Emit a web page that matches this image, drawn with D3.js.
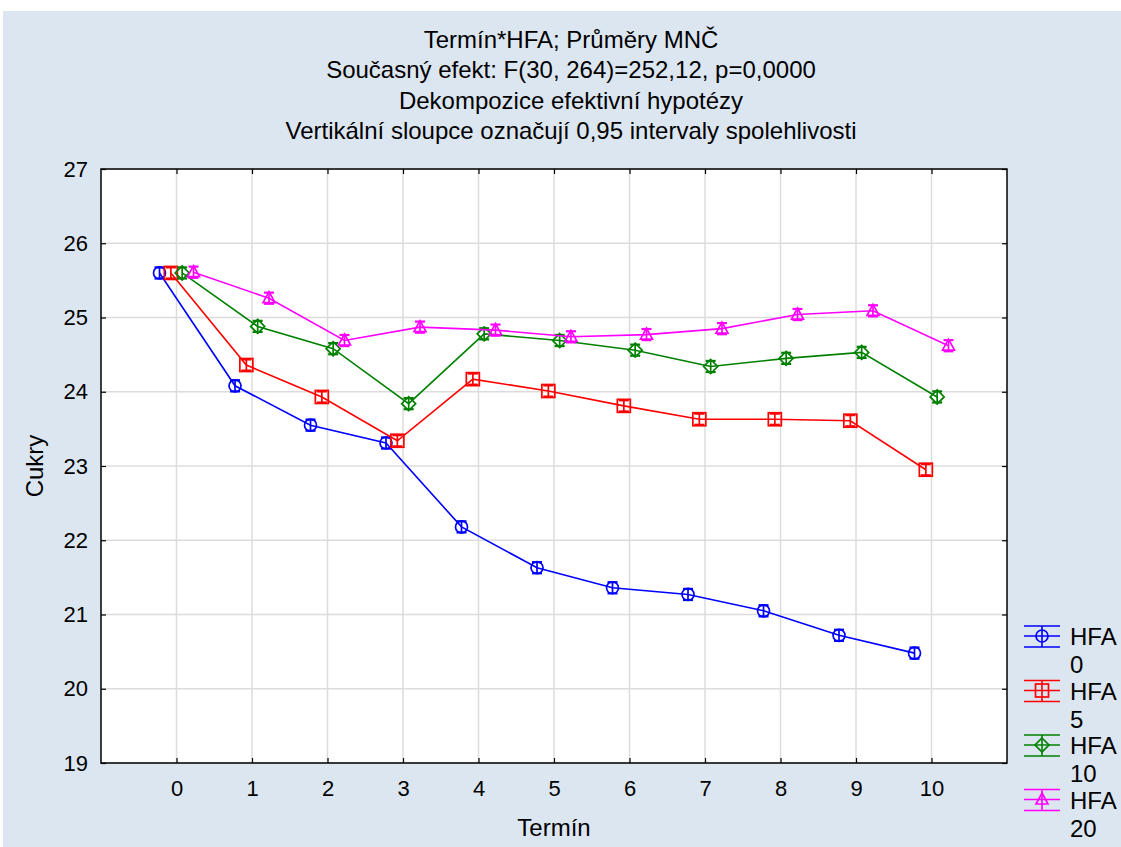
<!DOCTYPE html>
<html>
<head>
<meta charset="utf-8">
<script src="https://cdn.jsdelivr.net/npm/d3@7"></script>
<style>
  body { margin: 0; background: #fff; }
  svg { display: block; font-family: "Liberation Sans", Arial, sans-serif; }
</style>
</head>
<body>
<svg id="chart"></svg>
<script>
// data
var terms = [0, 1, 2, 3, 4, 5, 6, 7, 8, 9, 10];
var groups = ["HFA 0", "HFA 5", "HFA 10", "HFA 20"];
var hfa0 = [25.60, 24.08, 23.55, 23.31, 22.18, 21.63, 21.36, 21.27, 21.05, 20.72, 20.48];
var hfa5 = [25.60, 24.36, 23.93, 23.34, 24.17, 24.01, 23.81, 23.63, 23.63, 23.61, 22.95];
var hfa10 = [25.60, 24.88, 24.58, 23.84, 24.78, 24.69, 24.56, 24.34, 24.45, 24.53, 23.93];
var hfa20 = [25.61, 25.26, 24.69, 24.87, 24.83, 24.74, 24.77, 24.85, 25.04, 25.09, 24.62];
var ciHalf = [0.075, 0.075, 0.075, 0.075, 0.075, 0.075, 0.075, 0.075, 0.075, 0.075, 0.075];
var yTicks = [19, 20, 21, 22, 23, 24, 25, 26, 27];
var titleLines = ["Termín*HFA; Průměry MNČ",
  "Současný efekt: F(30, 264)=252,12, p=0,0000",
  "Dekompozice efektivní hypotézy",
  "Vertikální sloupce označují 0,95 intervaly spolehlivosti"];

var colors = ["#0000ff", "#ff0000", "#008000", "#ff00ff"];
var shapes = ["circle", "square", "diamond", "triangle"];
var offsets = [-0.225, -0.075, 0.075, 0.225];
var allSeries = [hfa0, hfa5, hfa10, hfa20];

var W = 1121, H = 847;
var svg = d3.select("#chart").attr("width", W).attr("height", H);

svg.append("rect").attr("x", 3).attr("y", 11).attr("width", W - 3).attr("height", H - 11)
  .attr("fill", "#dce6f1");

var pLeft = 101, pRight = 1007, pTop = 169, pBottom = 763;

var x = d3.scaleLinear().domain([-1, 11]).range([pLeft, pRight]);
var y = d3.scaleLinear().domain([19, 27]).range([pBottom, pTop]);

svg.append("rect").attr("x", pLeft).attr("y", pTop)
  .attr("width", pRight - pLeft).attr("height", pBottom - pTop).attr("fill", "#fff");

// grid
svg.append("g").selectAll("line").data(terms).enter().append("line")
  .attr("x1", function(d){ return x(d); }).attr("x2", function(d){ return x(d); })
  .attr("y1", pTop).attr("y2", pBottom)
  .attr("stroke", "#dcdcdc").attr("stroke-width", 1.5);
svg.append("g").selectAll("line").data(yTicks).enter().append("line")
  .attr("y1", function(d){ return y(d); }).attr("y2", function(d){ return y(d); })
  .attr("x1", pLeft).attr("x2", pRight)
  .attr("stroke", "#dcdcdc").attr("stroke-width", 1.5);

// axes with inward ticks
var axL = svg.append("g").attr("transform", "translate(" + pLeft + ",0)")
  .call(d3.axisLeft(y).tickValues(yTicks).tickSize(-5).tickPadding(13));
var axB = svg.append("g").attr("transform", "translate(0," + pBottom + ")")
  .call(d3.axisBottom(x).tickValues(terms).tickSize(-5).tickPadding(17));
var axT = svg.append("g").attr("transform", "translate(0," + pTop + ")")
  .call(d3.axisTop(x).tickValues(terms).tickSize(-5).tickFormat(""));
var axR = svg.append("g").attr("transform", "translate(" + pRight + ",0)")
  .call(d3.axisRight(y).tickValues(yTicks).tickSize(-5).tickFormat(""));
[axL, axB, axT, axR].forEach(function(a){
  a.select(".domain").remove();
  a.selectAll("line").attr("stroke", "#000").attr("stroke-width", 1.2);
  a.selectAll("text").attr("font-size", 22).attr("fill", "#000")
    .attr("font-family", "'Liberation Sans', Arial, sans-serif");
});
svg.append("rect").attr("x", pLeft).attr("y", pTop)
  .attr("width", pRight - pLeft).attr("height", pBottom - pTop)
  .attr("fill", "none").attr("stroke", "#000").attr("stroke-width", 1.5);

// titles
svg.append("g").selectAll("text").data(titleLines).enter().append("text")
  .attr("x", 571).attr("y", function(d, i){ return 48 + i * 30.3; })
  .attr("text-anchor", "middle").attr("font-size", 24).text(function(d){ return d; });

svg.append("text").attr("x", 554).attr("y", 836).attr("text-anchor", "middle")
  .attr("font-size", 24).text("Termín");
svg.append("text").attr("transform", "translate(43," + ((pTop + pBottom) / 2) + ") rotate(-90)")
  .attr("text-anchor", "middle").attr("font-size", 24).text("Cukry");

function drawMarker(g, shape, color, cx, cy) {
  var m;
  if (shape === "circle") {
    m = g.append("circle").attr("cx", cx).attr("cy", cy).attr("r", 6);
  } else if (shape === "square") {
    m = g.append("rect").attr("x", cx - 6.5).attr("y", cy - 6.5).attr("width", 13).attr("height", 13);
  } else if (shape === "diamond") {
    m = g.append("path").attr("d", "M" + cx + "," + (cy - 7) + "L" + (cx + 7) + "," + cy +
      "L" + cx + "," + (cy + 7) + "L" + (cx - 7) + "," + cy + "Z");
  } else {
    m = g.append("path").attr("d", "M" + cx + "," + (cy - 6.5) + "L" + (cx + 6) + "," + (cy + 4.5) +
      "L" + (cx - 6) + "," + (cy + 4.5) + "Z");
  }
  m.attr("fill", "none").attr("stroke", color).attr("stroke-width", 1.7);
}

var line = d3.line();
allSeries.forEach(function(vals, s){
  var g = svg.append("g");
  var pts = terms.map(function(t, i){ return [x(t + offsets[s]), y(vals[i])]; });
  g.append("path").attr("d", line(pts)).attr("fill", "none")
    .attr("stroke", colors[s]).attr("stroke-width", 1.6);
  terms.forEach(function(t, i){
    var cx = x(t + offsets[s]);
    var y1 = y(vals[i] + ciHalf[i]), y2 = y(vals[i] - ciHalf[i]);
    g.append("line").attr("x1", cx).attr("x2", cx).attr("y1", y1).attr("y2", y2)
      .attr("stroke", colors[s]).attr("stroke-width", 1.7);
    [y1, y2].forEach(function(yy){
      g.append("line").attr("x1", cx - 5).attr("x2", cx + 5).attr("y1", yy).attr("y2", yy)
        .attr("stroke", colors[s]).attr("stroke-width", 2.2);
    });
    drawMarker(g, shapes[s], colors[s], cx, y(vals[i]));
  });
});

// legend
groups.forEach(function(name, s){
  var cy = 636 + s * 54.5;
  var g = svg.append("g");
  [-10, 0, 11].forEach(function(dy){
    g.append("line").attr("x1", 1024).attr("x2", 1060).attr("y1", cy + dy).attr("y2", cy + dy)
      .attr("stroke", colors[s]).attr("stroke-width", 1.6);
  });
  g.append("line").attr("x1", 1042).attr("x2", 1042).attr("y1", cy - 10).attr("y2", cy + 11)
    .attr("stroke", colors[s]).attr("stroke-width", 1.6);
  drawMarker(g, shapes[s], colors[s], 1042, cy);
  var parts = name.split(" ");
  g.append("text").attr("x", 1070).attr("y", cy + 9).attr("font-size", 24).text(parts[0]);
  g.append("text").attr("x", 1070).attr("y", cy + 37).attr("font-size", 24).text(parts[1]);
});
</script>
</body>
</html>
